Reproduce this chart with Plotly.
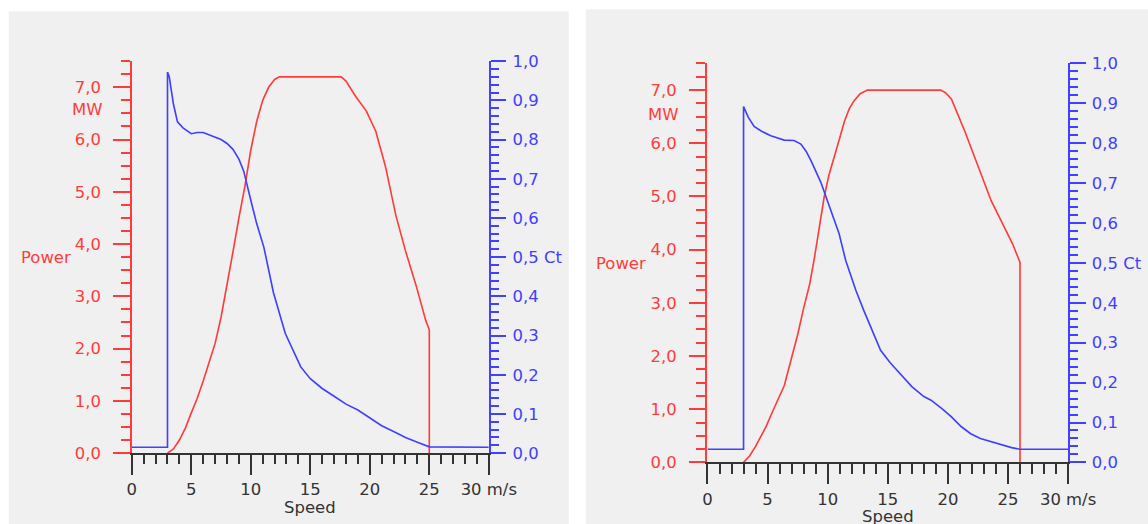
import plotly.graph_objects as go

# The photographed page shows the figure scaled by ~0.97; with the body margin removed the
# figure's origin lands near (4, 7.7) in the photo. Layout positions below are given in
# target-picture pixels and mapped through that.
SX, SY = 0.972, 0.967
OX, OY = 4.2, 7.7
W = int(round((1148 - OX) / SX)) + 1
H = int(round((524 - OY) / SY)) + 1

# ---------------- data ----------------
# Left turbine
left_power_speed = [3.0, 3.5, 4.0, 4.5, 5.0, 5.5, 6.0, 6.5, 7.0, 7.5, 8.0, 8.5, 9.0, 9.5, 10.0,
                    10.5, 11.0, 11.5, 12.0, 12.4, 17.6, 18.0, 18.8, 19.7, 20.5, 21.3, 22.2,
                    23.0, 23.9, 24.7, 25.0, 25.0]
left_power_mw = [0.0, 0.08, 0.25, 0.48, 0.77, 1.05, 1.38, 1.72, 2.1, 2.6, 3.2, 3.85, 4.5, 5.1, 5.8,
                 6.35, 6.75, 7.0, 7.15, 7.2, 7.2, 7.12, 6.83, 6.55, 6.16, 5.5, 4.54,
                 3.87, 3.2, 2.54, 2.36, 0.0]
left_ct_speed = [0.0, 3.0, 3.0, 3.15, 3.3, 3.5, 3.84, 4.3, 5.0, 5.5, 6.0, 6.5, 7.0, 7.5, 8.0, 8.5,
                 9.0, 9.4, 10.0, 10.5, 11.1, 11.5, 11.9, 12.9, 14.2, 15.0, 16.0, 17.0, 18.0,
                 19.0, 20.0, 21.0, 22.0, 23.0, 24.0, 25.0, 30.0]
left_ct = [0.015, 0.015, 0.972, 0.96, 0.93, 0.89, 0.845, 0.83, 0.815, 0.818, 0.818, 0.812, 0.805,
           0.80, 0.79, 0.775, 0.75, 0.72, 0.645, 0.585, 0.525, 0.465, 0.41, 0.305, 0.22, 0.19,
           0.165, 0.145, 0.125, 0.11, 0.09, 0.07, 0.055, 0.04, 0.028, 0.016, 0.015]

# Right turbine
right_power_speed = [3.0, 3.5, 4.0, 4.86, 5.5, 6.0, 6.4, 6.94, 7.5, 8.0, 8.5, 8.9, 9.3, 9.7, 10.1,
                     10.55, 11.0, 11.4, 11.8, 12.2, 12.7, 13.3, 19.4, 19.8, 20.3, 21.4, 22.2,
                     23.05, 23.6, 24.7, 25.4, 26.0, 26.0]
right_power_mw = [0.0, 0.12, 0.3, 0.67, 1.0, 1.25, 1.45, 1.92, 2.4, 2.9, 3.35, 3.85, 4.4, 4.98, 5.4,
                  5.73, 6.1, 6.42, 6.65, 6.8, 6.93, 7.0, 7.0, 6.95, 6.83, 6.23, 5.75,
                  5.23, 4.92, 4.42, 4.1, 3.76, 0.0]
right_ct_speed = [0.0, 3.0, 3.0, 3.4, 3.88, 4.5, 5.27, 6.38, 7.2, 7.77, 8.2, 8.6, 9.43, 10.26,
                  10.95, 11.5, 12.35, 13.0, 14.4, 15.2, 16.1, 17.0, 18.0, 18.6, 19.5, 20.3,
                  21.1, 21.9, 22.7, 23.6, 24.5, 25.3, 26.0, 30.0]
right_ct = [0.033, 0.033, 0.892, 0.865, 0.842, 0.83, 0.819, 0.808, 0.807, 0.798, 0.78, 0.757,
            0.702, 0.631, 0.573, 0.506, 0.431, 0.381, 0.281, 0.25, 0.22, 0.19, 0.165, 0.156,
            0.135, 0.114, 0.09, 0.072, 0.06, 0.052, 0.043, 0.037, 0.033, 0.033]

x_ticks = [0, 5, 10, 15, 20, 25, 30]
x_tick_text = ["0", "5", "10", "15", "20", "25", "30 m/s"]
power_ticks = [0, 1, 2, 3, 4, 5, 6, 7]
power_tick_text = ["0,0", "1,0", "2,0", "3,0", "4,0", "5,0", "6,0", "7,0"]
ct_ticks = [0.0, 0.1, 0.2, 0.3, 0.4, 0.5, 0.6, 0.7, 0.8, 0.9, 1.0]
ct_tick_text = ["0,0", "0,1", "0,2", "0,3", "0,4", "0,5 Ct", "0,6", "0,7", "0,8", "0,9", "1,0"]

# ---------------- styling ----------------
RED = "#ff3c3c"
BLUE = "#4040ff"
DARK = "#333333"
FONT = "DejaVu Sans"
K = 1 / SX  # size compensation
FS = 16 * K


def px(x):
    """target pixel x -> paper fraction"""
    return ((x - OX) / SX) / W


def py(y):
    """target pixel y -> paper fraction"""
    return 1 - ((y - OY) / SY) / H


fig = go.Figure()

LW = 1.6 * K
fig.add_trace(go.Scatter(x=left_power_speed, y=left_power_mw, mode="lines",
                         line=dict(color=RED, width=LW), xaxis="x", yaxis="y", showlegend=False))
fig.add_trace(go.Scatter(x=left_ct_speed, y=left_ct, mode="lines",
                         line=dict(color=BLUE, width=LW), xaxis="x", yaxis="y2", showlegend=False))
fig.add_trace(go.Scatter(x=right_power_speed, y=right_power_mw, mode="lines",
                         line=dict(color=RED, width=LW), xaxis="x2", yaxis="y3", showlegend=False))
fig.add_trace(go.Scatter(x=right_ct_speed, y=right_ct, mode="lines",
                         line=dict(color=BLUE, width=LW), xaxis="x2", yaxis="y4", showlegend=False))


def xaxis_cfg(domain, anchor):
    return dict(domain=domain, anchor=anchor, range=[0, 30], tickvals=x_ticks, ticktext=x_tick_text,
                ticks="outside", ticklen=19 * K, tickwidth=2, tickcolor=DARK,
                minor=dict(dtick=1, ticklen=9 * K, tickwidth=2, tickcolor=DARK, ticks="outside"),
                showline=True, linecolor=DARK, linewidth=2, showgrid=False, zeroline=False,
                tickfont=dict(family=FONT, size=FS, color=DARK), ticklabelstandoff=1,
                fixedrange=True)


def power_cfg(domain, anchor):
    return dict(domain=domain, anchor=anchor, range=[0, 7.5], tickvals=power_ticks,
                ticktext=power_tick_text, ticks="outside", ticklen=16 * K, tickwidth=2, tickcolor=RED,
                minor=dict(dtick=0.25, ticklen=9 * K, tickwidth=2, tickcolor=RED, ticks="outside"),
                showline=True, linecolor=RED, linewidth=2, showgrid=False, zeroline=False,
                tickfont=dict(family=FONT, size=FS, color=RED), ticklabelstandoff=9,
                fixedrange=True)


def ct_cfg(domain, anchor, over):
    return dict(domain=domain, anchor=anchor, overlaying=over, side="right", range=[0, 1],
                tickvals=ct_ticks, ticktext=ct_tick_text, ticks="outside", ticklen=15 * K,
                tickwidth=2, tickcolor=BLUE,
                minor=dict(dtick=0.02, ticklen=8 * K, tickwidth=2, tickcolor=BLUE, ticks="outside"),
                showline=True, linecolor=BLUE, linewidth=2, showgrid=False, zeroline=False,
                tickfont=dict(family=FONT, size=FS, color=BLUE), ticklabelstandoff=3,
                fixedrange=True)


L_x = [px(131), px(488)]
L_y = [py(453), py(60)]
R_x = [px(706.7), px(1067.3)]
R_y = [py(462.3), py(62.3)]

fig.update_layout(
    width=W, height=H, margin=dict(l=0, r=0, t=0, b=0), autosize=False,
    paper_bgcolor="white", plot_bgcolor="rgba(0,0,0,0)",
    separators=",.",
    hovermode=False,
    xaxis=xaxis_cfg(L_x, "y"),
    yaxis=power_cfg(L_y, "x"),
    yaxis2=ct_cfg(L_y, "x", "y"),
    xaxis2=xaxis_cfg(R_x, "y3"),
    yaxis3=power_cfg(R_y, "x2"),
    yaxis4=ct_cfg(R_y, "x2", "y3"),
    shapes=[
        dict(type="rect", xref="paper", yref="paper", x0=max(px(8), 0), x1=px(568), y0=0,
             y1=py(10), fillcolor="#f0f0f0", line=dict(width=0), layer="below"),
        dict(type="rect", xref="paper", yref="paper", x0=px(585), x1=1, y0=0, y1=py(8),
             fillcolor="#f0f0f0", line=dict(width=0), layer="below"),
    ],
)

annos = [
    ("MW", 103, 108, "right", RED),
    ("Power", 72, 257, "right", RED),
    ("Speed", 309, 508, "center", DARK),
    ("MW", 679, 113, "right", RED),
    ("Power", 647, 263, "right", RED),
    ("Speed", 887, 517, "center", DARK),
]
for text, x, y, anchor, color in annos:
    fig.add_annotation(text=text, xref="paper", yref="paper", x=px(x), y=py(y), xanchor=anchor,
                       yanchor="middle", showarrow=False,
                       font=dict(family=FONT, size=FS, color=color))

fig.write_html("out.html", config={"displayModeBar": False},
               post_script="document.body.style.margin='0px';")
